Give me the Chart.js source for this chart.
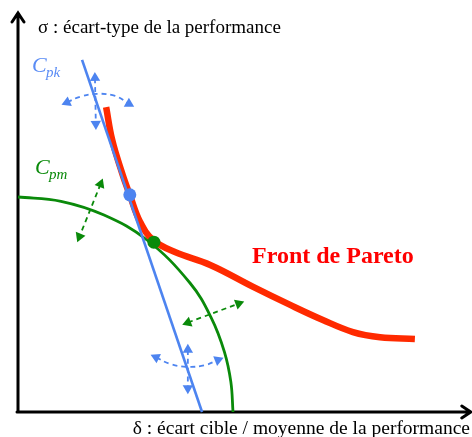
<!DOCTYPE html>
<html>
<head>
<meta charset="utf-8">
<script src="https://cdn.jsdelivr.net/npm/chart.js@4.4.1/dist/chart.umd.min.js"></script>
<style>
  html, body { margin: 0; padding: 0; background: #fff; }
</style>
</head>
<body>
<canvas id="chart" width="472" height="437"></canvas>
<script>
// values (same unit on both axes)
const paretoFront = [
  {x: 2.05, y: 7.09}, {x: 2.19, y: 6.33}, {x: 2.42, y: 5.56}, {x: 2.60, y: 5.05},
  {x: 2.84, y: 4.42}, {x: 3.14, y: 4.00}, {x: 3.65, y: 3.72}, {x: 4.47, y: 3.42},
  {x: 5.47, y: 2.91}, {x: 6.33, y: 2.49}, {x: 7.09, y: 2.14}, {x: 7.79, y: 1.86},
  {x: 8.42, y: 1.74}, {x: 9.23, y: 1.70}
];
const cpkLine = [{x: 1.49, y: 8.19}, {x: 4.28, y: 0}];
const cpmArc = [
  {x: 0, y: 5.0}, {x: 1.0, y: 4.9}, {x: 2.0, y: 4.58}, {x: 3.0, y: 4.0},
  {x: 4.0, y: 3.0}, {x: 4.5, y: 2.18}, {x: 4.8, y: 1.4}, {x: 4.95, y: 0.7}, {x: 5.0, y: 0}
];
const cpkPoint = [{x: 2.60, y: 5.05}];
const cpmPoint = [{x: 3.16, y: 3.95}];

// dashed double arrows
const cpkArrowUpV = [{x: 1.79, y: 7.77}, {x: 1.81, y: 6.70}];
const cpkArrowUpArc = [
  {x: 1.14, y: 7.20}, {x: 1.44, y: 7.33}, {x: 1.84, y: 7.40}, {x: 2.26, y: 7.35}, {x: 2.58, y: 7.17}
];
const cpkArrowLowV = [{x: 3.95, y: 1.45}, {x: 3.95, y: 0.55}];
const cpkArrowLowArc = [
  {x: 3.21, y: 1.27}, {x: 3.53, y: 1.12}, {x: 3.95, y: 1.05}, {x: 4.35, y: 1.09}, {x: 4.65, y: 1.21}
];
const cpmArrowUp = [{x: 1.92, y: 5.30}, {x: 1.43, y: 4.08}];
const cpmArrowLow = [{x: 3.95, y: 2.08}, {x: 5.13, y: 2.52}];

const BLUE = '#4d84f0';
const GREEN = '#0a8a0a';
const RED = '#ff2a00';

function arrowRotation(pts) {
  return pts.map((p, i) => {
    const q = i === 0 ? pts[1] : pts[i - 1];
    return Math.atan2(p.x - q.x, p.y - q.y) * 180 / Math.PI;
  });
}

function dashedArrow(pts, color) {
  return {
    data: pts,
    showLine: true,
    borderColor: color,
    borderWidth: 1.8,
    borderDash: [5, 4],
    tension: 0.4,
    pointStyle: 'triangle',
    pointRadius: pts.map((p, i) => (i === 0 || i === pts.length - 1) ? 6 : 0),
    pointRotation: arrowRotation(pts),
    pointBackgroundColor: color,
    pointBorderWidth: 0,
    order: 5
  };
}

const serif = '"Liberation Serif", "Times New Roman", serif';

const drawing = {
  id: 'drawing',
  beforeDatasetsDraw(chart) {
    const {ctx, scales: {x, y}} = chart;
    const ox = x.getPixelForValue(0), oy = y.getPixelForValue(0);
    const top = y.getPixelForValue(9.28), right = x.getPixelForValue(10.53);
    ctx.save();
    ctx.strokeStyle = '#000';
    ctx.lineWidth = 3;
    ctx.lineCap = 'round';
    ctx.beginPath();
    ctx.moveTo(ox, oy); ctx.lineTo(ox, top);
    ctx.moveTo(ox - 6, top + 9); ctx.lineTo(ox, top); ctx.lineTo(ox + 6, top + 9);
    ctx.moveTo(ox - 1, oy); ctx.lineTo(right, oy);
    ctx.moveTo(right - 9, oy - 6); ctx.lineTo(right, oy); ctx.lineTo(right - 9, oy + 6);
    ctx.stroke();
    ctx.restore();
  },
  afterDatasetsDraw(chart) {
    const {ctx} = chart;
    ctx.save();
    ctx.textBaseline = 'alphabetic';
    ctx.fillStyle = '#000';
    ctx.font = '19px ' + serif;
    ctx.fillText('σ : écart-type de la performance', 38, 33);
    ctx.textAlign = 'right';
    ctx.font = '19.5px ' + serif;
    ctx.fillText('δ : écart cible / moyenne de la performance', 470, 434);
    ctx.textAlign = 'left';

    ctx.fillStyle = '#5a8cf5';
    ctx.font = 'italic 22px ' + serif;
    ctx.fillText('C', 32, 72);
    ctx.font = 'italic 15px ' + serif;
    ctx.fillText('pk', 46, 77);

    ctx.fillStyle = GREEN;
    ctx.font = 'italic 22px ' + serif;
    ctx.fillText('C', 35, 174);
    ctx.font = 'italic 15px ' + serif;
    ctx.fillText('pm', 49, 179);

    ctx.fillStyle = '#ff0000';
    ctx.font = 'bold 24px ' + serif;
    ctx.textBaseline = 'middle';
    ctx.fillText('Front de Pareto', 252, 257);
    ctx.restore();
  }
};

new Chart(document.getElementById('chart'), {
  type: 'scatter',
  data: {
    datasets: [
      {data: cpkPoint, pointRadius: 6.5, pointBackgroundColor: BLUE, pointBorderWidth: 0, order: 0},
      {data: cpmPoint, pointRadius: 6.5, pointBackgroundColor: GREEN, pointBorderWidth: 0, order: 0},
      {data: cpkLine, showLine: true, borderColor: BLUE, borderWidth: 2.6, pointRadius: 0, order: 1},
      {data: paretoFront, showLine: true, borderColor: RED, borderWidth: 6.5, tension: 0.4,
       pointRadius: 0, order: 2},
      {data: cpmArc, showLine: true, borderColor: GREEN, borderWidth: 2.8, tension: 0.4,
       pointRadius: 0, order: 3},
      dashedArrow(cpkArrowUpV, BLUE),
      dashedArrow(cpkArrowUpArc, BLUE),
      dashedArrow(cpkArrowLowV, BLUE),
      dashedArrow(cpkArrowLowArc, BLUE),
      dashedArrow(cpmArrowUp, GREEN),
      dashedArrow(cpmArrowLow, GREEN)
    ]
  },
  options: {
    responsive: false,
    animation: false,
    layout: {padding: 0, autoPadding: false},
    plugins: {legend: {display: false}, tooltip: {enabled: false}},
    scales: {
      x: {type: 'linear', min: -18 / 43, max: 454 / 43, display: false},
      y: {type: 'linear', min: -25 / 43, max: 412 / 43, display: false}
    }
  },
  plugins: [drawing]
});
</script>
</body>
</html>
